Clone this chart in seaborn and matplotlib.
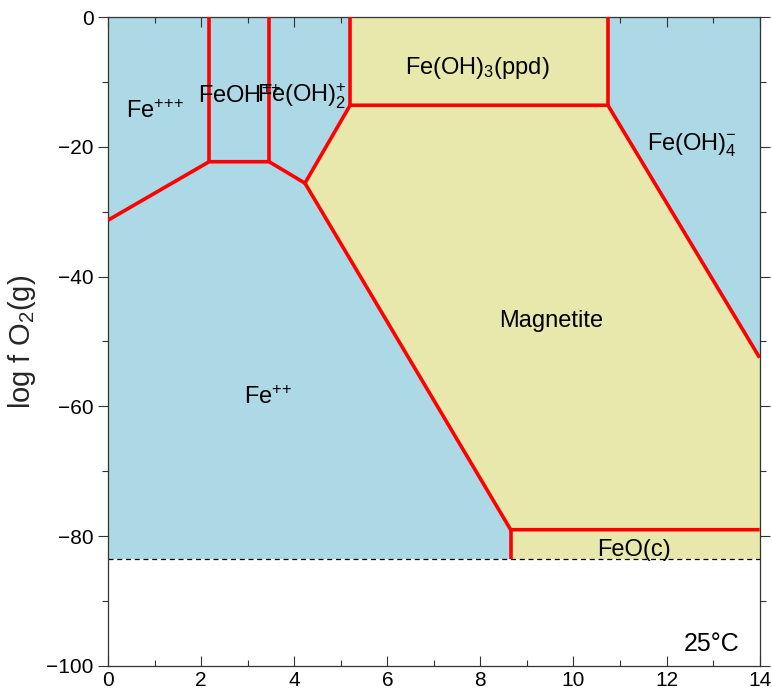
import matplotlib
matplotlib.use("Agg")
import matplotlib.pyplot as plt
import seaborn as sns
import pandas as pd
from matplotlib.ticker import MultipleLocator

# ── Data (pH, log fO2) ─────────────────────────────────────────────────────────
# triple points / corners
P_LEFT    = (0.0, -31.3)
P_A       = (2.17, -22.3)
P_B       = (3.46, -22.3)
P_C       = (4.23, -25.6)
P_D       = (5.20, -13.6)
P_E       = (10.74, -13.6)
P_F       = (14.0, -52.5)
P_G       = (8.65, -79.0)
P_H       = (14.0, -79.0)
WATER_LIM = -83.5          # dashed water stability line

# red field boundaries, each one a list of (x, y)
boundaries = [
    [P_LEFT, P_A, P_B, P_C],
    [(P_A[0], 0.0), P_A],
    [(P_B[0], 0.0), P_B],
    [P_C, P_D, P_E, P_F],
    [(P_D[0], 0.0), P_D],
    [(P_E[0], 0.0), P_E],
    [P_C, P_G, P_H],
    [P_G, (P_G[0], WATER_LIM)],
]

# mineral fields (yellow)
mineral_fields = {
    "Fe(OH)3": [(P_D[0], 0.0), (P_E[0], 0.0), P_E, P_D],
    "Magnetite": [P_C, P_D, P_E, P_F, P_H, P_G],
    "FeO": [P_G, P_H, (14.0, WATER_LIM), (P_G[0], WATER_LIM)],
}

# (text, x, y, horizontal alignment) - y is the text baseline
labels = [
    ("Fe$^{{+}{+}{+}}$", 1.01, -15.6, "center"),
    ("FeOH$^{{+}{+}}$", 1.93, -13.2, "left"),
    ("Fe(OH)$_2^{+}$", 3.20, -13.2, "left"),
    ("Fe(OH)$_3$(ppd)", 7.93, -8.8, "center"),
    ("Fe(OH)$_4^{-}$", 12.54, -20.5, "center"),
    ("Magnetite", 9.52, -47.8, "center"),
    ("Fe$^{{+}{+}}$", 3.44, -59.6, "center"),
    ("FeO(c)", 11.29, -83.0, "center"),
]

XLIM = (0, 14)
YLIM = (-100, 0)

AQ_COLOR = "#add8e6"
MIN_COLOR = "#e8e8ac"
LINE_COLOR = "#ff0000"

# ── Plot ───────────────────────────────────────────────────────────────────────
sns.set_style("ticks")
plt.rcParams["font.family"] = ["Liberation Sans", "DejaVu Sans"]
plt.rcParams["mathtext.fontset"] = "custom"
plt.rcParams["mathtext.rm"] = "Liberation Sans"
plt.rcParams["mathtext.it"] = "Liberation Sans"
plt.rcParams["text.color"] = "black"

fig = plt.figure(figsize=(7.72, 7.0), dpi=100)
ax = fig.add_axes([0.140, 0.0486, 0.844, 0.9271])

# aqueous background down to the water limit
ax.fill([XLIM[0], XLIM[1], XLIM[1], XLIM[0]],
        [YLIM[1], YLIM[1], WATER_LIM, WATER_LIM],
        color=AQ_COLOR, lw=0, zorder=0)
for pts in mineral_fields.values():
    xs, ys = zip(*pts)
    ax.fill(xs, ys, color=MIN_COLOR, lw=0, zorder=1)

ax.axhline(WATER_LIM, color="black", lw=0.9, ls=(0, (4, 3)), zorder=2)

for seg in boundaries:
    df = pd.DataFrame(seg, columns=["pH", "logfO2"])
    sns.lineplot(data=df, x="pH", y="logfO2", sort=False, estimator=None,
                 color=LINE_COLOR, lw=2.6, ax=ax, zorder=3,
                 solid_joinstyle="miter", solid_capstyle="butt")

for txt, x, y, ha in labels:
    ax.text(x, y, txt, fontsize=17, ha=ha, va="baseline", zorder=4)

ax.text(13.57, -97.7, "25°C", fontsize=18, ha="right", va="baseline")

ax.set_xlim(*XLIM)
ax.set_ylim(*YLIM)
ax.set_xlabel("")
ax.set_ylabel("log f O$_2$(g)", fontsize=21, labelpad=6)
ax.xaxis.set_major_locator(MultipleLocator(2))
ax.xaxis.set_minor_locator(MultipleLocator(1))
ax.yaxis.set_major_locator(MultipleLocator(20))
ax.yaxis.set_minor_locator(MultipleLocator(10))
ax.set_yticks(range(-100, 1, 20))
ax.set_yticklabels(["\u2212100", "\u221280", "\u221260", "\u221240", "\u221220", "0"])

ax.tick_params(axis="both", which="both", direction="in", top=True, right=True,
               labelsize=15, width=0.8, colors="#333333", labelcolor="black")
ax.tick_params(axis="y", which="both", left=True, direction="out")
ax.tick_params(which="major", length=7)
ax.tick_params(which="minor", length=4)
for s in ax.spines.values():
    s.set_linewidth(0.9)
    s.set_color("#333333")

fig.savefig("out.png", dpi=100)
